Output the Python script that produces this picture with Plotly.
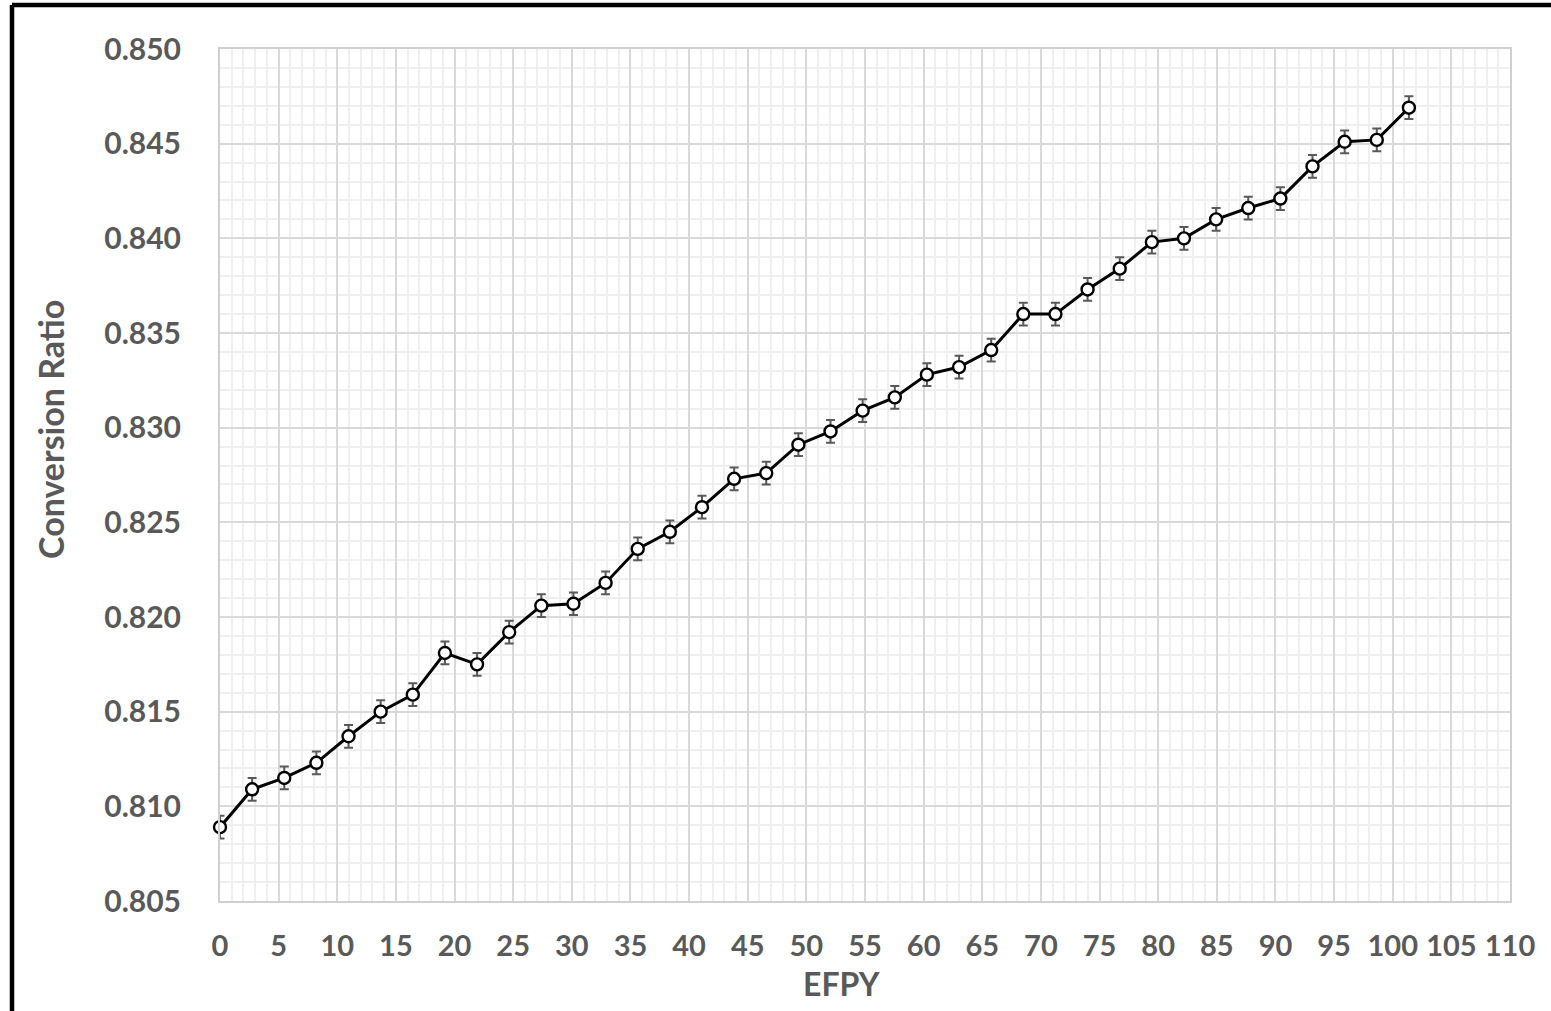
import plotly.graph_objects as go

# Effective full-power years and the conversion ratio at each burnup step
efpy = [0.00, 2.74, 5.48, 8.22, 10.96, 13.70, 16.44, 19.18, 21.92, 24.66,
        27.40, 30.14, 32.88, 35.62, 38.36, 41.10, 43.84, 46.58, 49.32, 52.06,
        54.80, 57.54, 60.28, 63.02, 65.76, 68.50, 71.24, 73.98, 76.72, 79.46,
        82.20, 84.94, 87.68, 90.42, 93.16, 95.90, 98.64, 101.38]
conversion_ratio = [0.8089, 0.8109, 0.8115, 0.8123, 0.8137, 0.8150, 0.8159, 0.8181, 0.8175, 0.8192,
                    0.8206, 0.8207, 0.8218, 0.8236, 0.8245, 0.8258, 0.8273, 0.8276, 0.8291, 0.8298,
                    0.8309, 0.8316, 0.8328, 0.8332, 0.8341, 0.8360, 0.8360, 0.8373, 0.8384, 0.8398,
                    0.8400, 0.8410, 0.8416, 0.8421, 0.8438, 0.8451, 0.8452, 0.8469]
uncertainty = 0.0006

x_ticks = [0, 5, 10, 15, 20, 25, 30, 35, 40, 45, 50, 55, 60, 65, 70, 75, 80, 85, 90, 95, 100, 105, 110]
y_ticks = [0.805, 0.810, 0.815, 0.820, 0.825, 0.830, 0.835, 0.840, 0.845, 0.850]

TEXT = "#595959"
FONT = "Lato"
W, H = 1551, 1011
L, R, T, B = 220, 41, 49, 110
pw, ph = W - L - R, H - T - B

fig = go.Figure()
fig.add_trace(go.Scatter(
    x=efpy, y=conversion_ratio, mode="lines+markers",
    line=dict(color="black", width=3),
    marker=dict(symbol="circle", size=12, color="white", line=dict(color="black", width=2.4)),
    error_y=dict(type="constant", value=uncertainty, color=TEXT, thickness=2, width=4.5),
    cliponaxis=False,
    showlegend=False,
))

fig.update_xaxes(
    range=[0, 110], tickvals=x_ticks, ticktext=[str(v) for v in x_ticks],
    showgrid=True, gridcolor="#d9d9d9", gridwidth=1.5,
    minor=dict(dtick=1, tick0=0, showgrid=True, gridcolor="#efefef", gridwidth=1.5),
    showline=True, linecolor="#d0d0d0", linewidth=2, mirror=True,
    zeroline=False, ticks="", ticklabelstandoff=18,
    tickfont=dict(family=FONT, size=29, color=TEXT, weight="bold"),
)
fig.update_yaxes(
    range=[0.805, 0.850], tickvals=y_ticks, ticktext=[f"{v:.3f}" for v in y_ticks],
    showgrid=True, gridcolor="#d9d9d9", gridwidth=1.5,
    minor=dict(dtick=0.001, tick0=0.805, showgrid=True, gridcolor="#efefef", gridwidth=1.5),
    showline=True, linecolor="#d0d0d0", linewidth=2, mirror=True,
    zeroline=False, ticks="", ticklabelstandoff=31,
    tickfont=dict(family=FONT, size=30, color=TEXT, weight="bold"),
)

# Axis titles placed as annotations in pixel-derived paper coordinates
fig.add_annotation(
    text="EFPY", xref="paper", yref="paper",
    x=(841 - L) / pw, y=-(983 - (T + ph)) / ph,
    showarrow=False, xanchor="center", yanchor="middle",
    font=dict(family=FONT, size=32, color=TEXT, weight="bold"),
)
fig.add_annotation(
    text="Conversion Ratio", xref="paper", yref="paper",
    x=(50 - L) / pw, y=1 - (429 - T) / ph, textangle=-90,
    showarrow=False, xanchor="center", yanchor="middle",
    font=dict(family=FONT, size=34, color=TEXT, weight="bold"),
)

# Black frame along the top and left edges of the figure
frame_x = (12 - L) / pw
frame_top = 1 + (T - 5) / ph
frame_bottom = -(H - (T + ph)) / ph
fig.add_shape(type="line", xref="paper", yref="paper",
              x0=frame_x, x1=(W - L) / pw + 0.01, y0=frame_top, y1=frame_top,
              line=dict(color="black", width=4.5))
fig.add_shape(type="line", xref="paper", yref="paper",
              x0=frame_x, x1=frame_x, y0=frame_top, y1=frame_bottom,
              line=dict(color="black", width=4.5))

fig.update_layout(
    width=W, height=H,
    margin=dict(l=L, r=R, t=T, b=B, pad=0),
    paper_bgcolor="white", plot_bgcolor="white",
)

fig.write_html("out.html")
